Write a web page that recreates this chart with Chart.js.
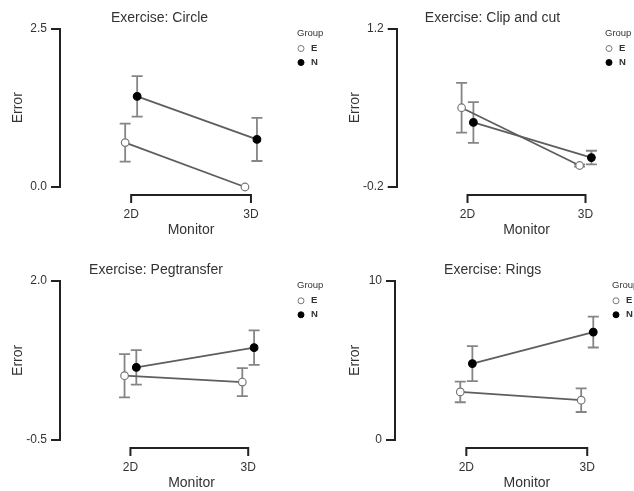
<!DOCTYPE html>
<html><head><meta charset="utf-8">
<script src="https://cdn.jsdelivr.net/npm/chart.js@4.4.0/dist/chart.umd.min.js"></script>
<style>
html,body{margin:0;padding:0;background:#fff;overflow:hidden;width:634px;height:491px;position:relative;}
canvas{position:absolute;}
</style></head><body>
<canvas id="c0" width="330" height="245" style="left:0;top:0"></canvas>
<canvas id="c1" width="334" height="245" style="left:330px;top:0"></canvas>
<canvas id="c2" width="330" height="250" style="left:0;top:245px"></canvas>
<canvas id="c3" width="334" height="250" style="left:330px;top:245px"></canvas>
<script>
// ---- data ----
const monitors = ['2D', '3D'];
const groups = ['E', 'N'];
const exercises = ['Circle', 'Clip and cut', 'Pegtransfer', 'Rings'];

const circleE = [0.70, 0.00];   const circleESe = [0.30, 0.00];
const circleN = [1.43, 0.75];   const circleNSe = [0.32, 0.34];
const clipE   = [0.50, -0.01];  const clipESe   = [0.22, 0.01];
const clipN   = [0.37, 0.06];   const clipNSe   = [0.18, 0.06];
const pegE    = [0.51, 0.41];   const pegESe    = [0.34, 0.22];
const pegN    = [0.64, 0.95];   const pegNSe    = [0.27, 0.27];
const ringsE  = [3.02, 2.50];   const ringsESe  = [0.65, 0.74];
const ringsN  = [4.80, 6.78];   const ringsNSe  = [1.10, 0.97];

const yTickValues = [[0.0, 2.5], [-0.2, 1.2], [-0.5, 2.0], [0, 10]];
const yTickLabels = [['0.0', '2.5'], ['-0.2', '1.2'], ['-0.5', '2.0'], ['0', '10']];

const panelSeries = [
  [[circleE, circleESe], [circleN, circleNSe]],
  [[clipE, clipESe], [clipN, clipNSe]],
  [[pegE, pegESe], [pegN, pegNSe]],
  [[ringsE, ringsESe], [ringsN, ringsNSe]]
];

// ---- layout / style ----
const FONT = "'Liberation Sans', Arial, Helvetica, sans-serif";
const TEXT = '#333';
const AXIS = '#222';
const LINE = '#5e5e5e';
const ERR = '#858585';
const DODGE = 0.05;
const layoutCfg = [
  {padLeft: -3,  axisW: 63, titleTop: 9.3,  padRight: 8,   padBottom: 6, xmin: 0.406, xmax: 2.593, legendX: 297, errPad: 12.9},
  {padLeft: -1.3, axisW: 68, titleTop: 9.3, padRight: 7.7, padBottom: 6, xmin: 0.400, xmax: 2.600, legendX: 275, errPad: 17.9},
  {padLeft: -11, axisW: 71, titleTop: 16.6, padRight: 7,   padBottom: 3, xmin: 0.402, xmax: 2.635, legendX: 297, errPad: 20.9},
  {padLeft: -4,  axisW: 69, titleTop: 16.6, padRight: 4.6, padBottom: 3, xmin: 0.410, xmax: 2.592, legendX: 282, errPad: 20.6}
];

const errorBarPlugin = {
  id: 'errorBars',
  beforeDatasetsDraw(chart) {
    const ctx = chart.ctx, xs = chart.scales.x, ys = chart.scales.y;
    ctx.save();
    ctx.strokeStyle = ERR; ctx.lineWidth = 1.8;
    chart.data.datasets.forEach(ds => {
      ds.data.forEach((p, i) => {
        const se = ds.se[i];
        const x = xs.getPixelForValue(p.x);
        const y1 = ys.getPixelForValue(p.y + se), y2 = ys.getPixelForValue(p.y - se);
        if (Math.abs(y2 - y1) < 1) return;
        ctx.beginPath();
        ctx.moveTo(x, y1); ctx.lineTo(x, y2);
        ctx.moveTo(x - 5.5, y1); ctx.lineTo(x + 5.5, y1);
        ctx.moveTo(x - 5.5, y2); ctx.lineTo(x + 5.5, y2);
        ctx.stroke();
      });
    });
    ctx.restore();
  }
};

const bracketPlugin = {
  id: 'bracket',
  afterDraw(chart) {
    const ctx = chart.ctx, xs = chart.scales.x, area = chart.chartArea;
    const xa = xs.getPixelForValue(1), xb = xs.getPixelForValue(monitors.length);
    const y = area.bottom + 8;
    ctx.save();
    ctx.strokeStyle = AXIS; ctx.lineWidth = 2; ctx.lineCap = 'square';
    ctx.beginPath();
    ctx.moveTo(xa, y + 7); ctx.lineTo(xa, y); ctx.lineTo(xb, y); ctx.lineTo(xb, y + 7);
    ctx.stroke();
    ctx.restore();
  }
};

const groupLegendPlugin = {
  id: 'groupLegend',
  afterDraw(chart, args, opts) {
    const ctx = chart.ctx, top = chart.chartArea.top, x = opts.x;
    ctx.save();
    ctx.fillStyle = TEXT; ctx.textBaseline = 'middle'; ctx.textAlign = 'left';
    ctx.font = '9.5px ' + FONT;
    ctx.fillText('Group', x, top + 5);
    chart.data.datasets.forEach((ds, i) => {
      const cy = top + 20 + i * 14;
      ctx.beginPath();
      ctx.arc(x + 4, cy, 3, 0, Math.PI * 2);
      ctx.fillStyle = ds.pointBackgroundColor; ctx.fill();
      ctx.strokeStyle = ds.pointBorderColor; ctx.lineWidth = 1; ctx.stroke();
      ctx.fillStyle = TEXT; ctx.font = 'bold 9.5px ' + FONT;
      ctx.fillText(ds.label, x + 14, cy);
    });
    ctx.restore();
  }
};

exercises.forEach((ex, pi) => {
  const L = layoutCfg[pi];
  const datasets = groups.map((g, gi) => {
    const [means, ses] = panelSeries[pi][gi];
    return {
      label: g,
      data: monitors.map((m, mi) => ({x: mi + 1 + (gi === 0 ? -DODGE : DODGE), y: means[mi]})),
      se: ses,
      showLine: true,
      borderColor: LINE,
      borderWidth: 1.8,
      pointRadius: 3.8,
      pointBorderWidth: 1.2,
      pointBackgroundColor: gi === 0 ? '#ffffff' : '#000000',
      pointBorderColor: gi === 0 ? '#777777' : '#000000',
      clip: false
    };
  });
  new Chart(document.getElementById('c' + pi), {
    type: 'line',
    data: {datasets},
    plugins: [errorBarPlugin, bracketPlugin, groupLegendPlugin],
    options: {
      responsive: false,
      animation: false,
      devicePixelRatio: 1,
      events: [],
      layout: {padding: {left: L.padLeft, top: 0, right: L.padRight, bottom: L.padBottom}},
      plugins: {
        legend: {display: false},
        tooltip: {enabled: false},
        title: {
          display: true, text: 'Exercise: ' + ex, fullSize: true,
          color: TEXT, font: {family: FONT, size: 14, weight: 'normal', lineHeight: 1.2},
          padding: {top: L.titleTop, bottom: 2.4}
        },
        groupLegend: {x: L.legendX}
      },
      scales: {
        x: {
          type: 'linear', position: 'bottom', min: L.xmin, max: L.xmax,
          afterBuildTicks: s => { s.ticks = monitors.map((m, i) => ({value: i + 1})); },
          afterFit: s => { s.height = 52; },
          ticks: {
            autoSkip: false, maxRotation: 0, padding: 20.3, color: TEXT,
            font: {family: FONT, size: 12, lineHeight: 1.2},
            callback: v => monitors[Math.round(v) - 1]
          },
          grid: {display: false, drawTicks: false},
          border: {display: false},
          title: {display: true, text: 'Monitor', color: TEXT,
                  font: {family: FONT, size: 14, lineHeight: 1.2}, padding: {top: 0, bottom: 0}}
        },
        y: {
          type: 'linear', position: 'left',
          min: yTickValues[pi][0], max: yTickValues[pi][1],
          afterBuildTicks: s => { s.ticks = yTickValues[pi].map(v => ({value: v})); },
          afterFit: s => { s.width = L.axisW; },
          ticks: {
            padding: 4, color: TEXT, font: {family: FONT, size: 12, lineHeight: 1.2},
            callback: (v, i) => yTickLabels[pi][i]
          },
          grid: {display: true, drawOnChartArea: false, drawTicks: true, tickLength: 9,
                 lineWidth: 2, color: AXIS},
          border: {display: true, width: 2, color: AXIS},
          title: {display: true, text: 'Error', color: TEXT,
                  font: {family: FONT, size: 14, lineHeight: 1.2}, padding: {top: L.errPad, bottom: 0}}
        }
      }
    }
  });
});
</script>
</body></html>
